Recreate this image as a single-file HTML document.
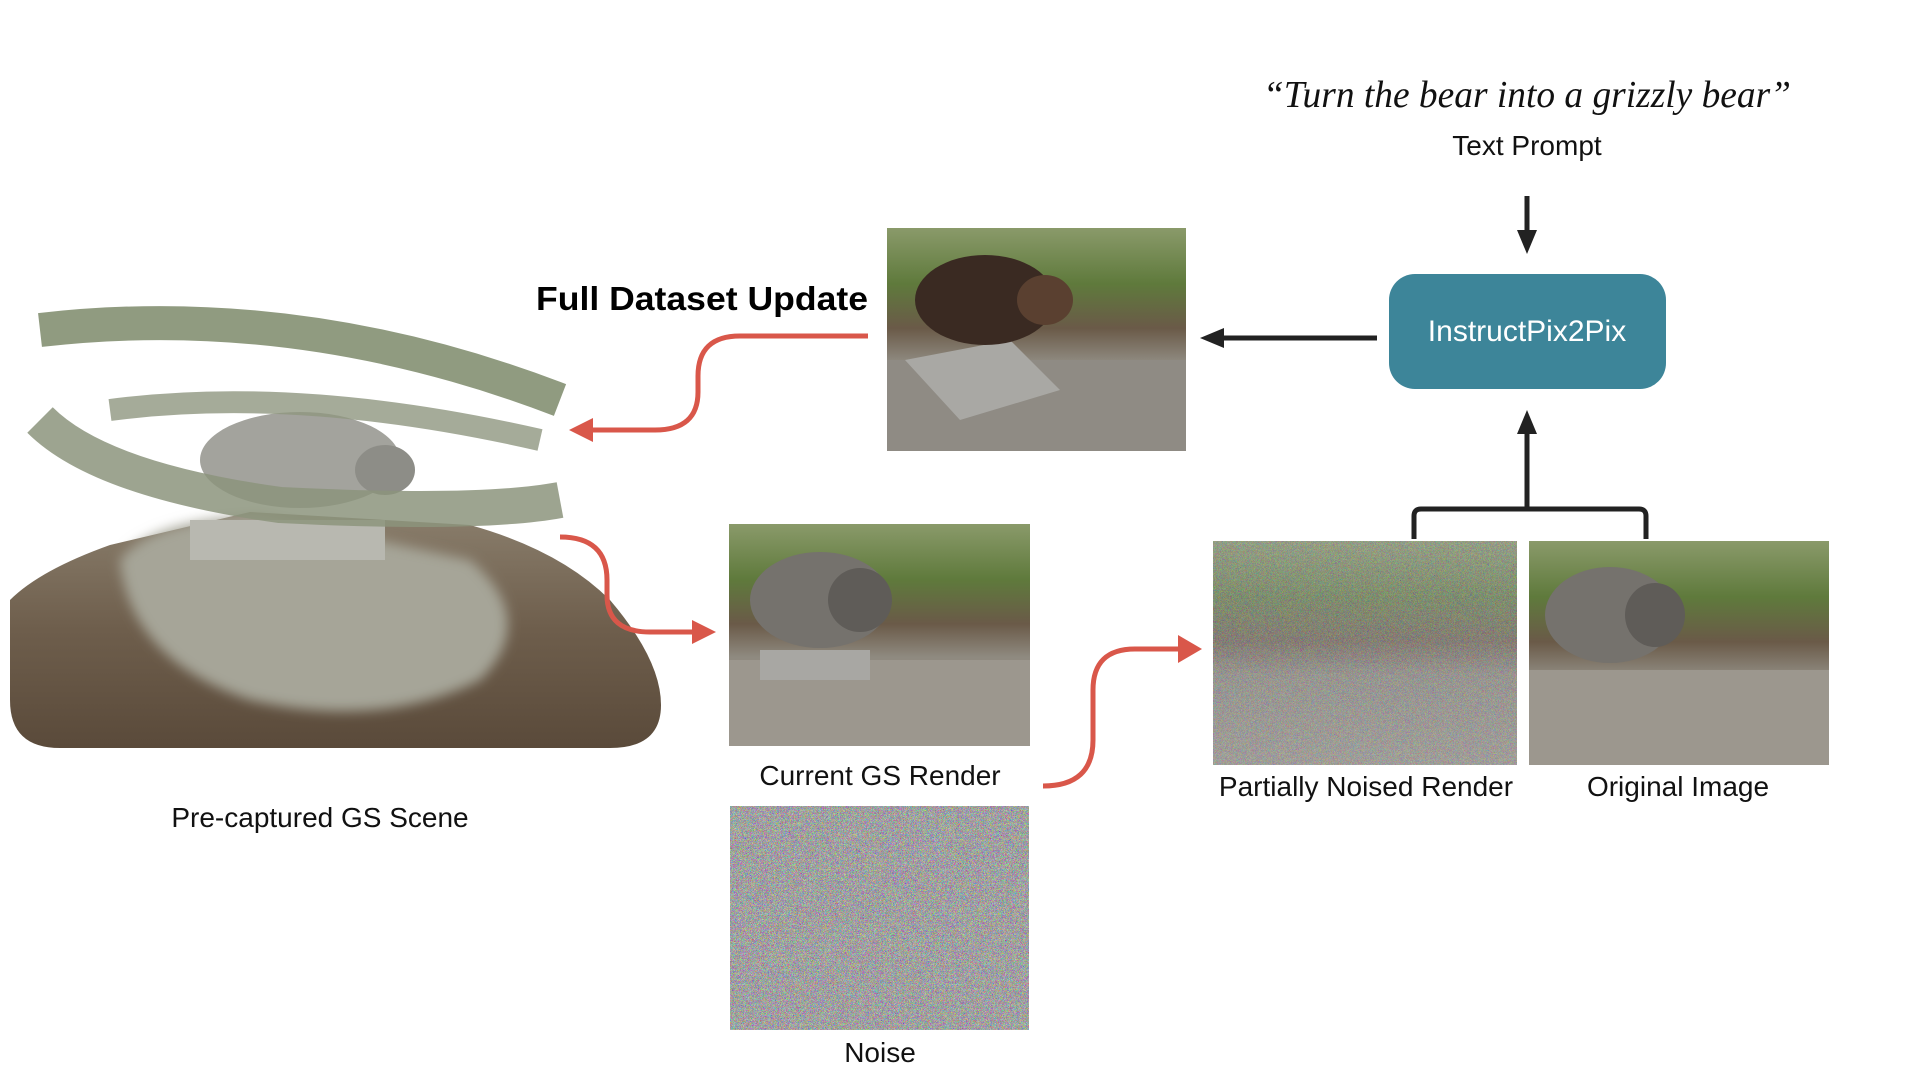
<!DOCTYPE html>
<html><head><meta charset="utf-8"><style>
html,body{margin:0;padding:0;background:#fff;}
svg{display:block;}
.lbl{font-family:"Liberation Sans",sans-serif;font-size:28px;fill:#111;}
</style></head><body>
<svg width="1920" height="1080" viewBox="0 0 1920 1080" xmlns="http://www.w3.org/2000/svg">
<defs>
  <filter id="noise" x="0" y="0" width="100%" height="100%">
    <feTurbulence type="turbulence" baseFrequency="1.2" numOctaves="1" seed="3"/>
    <feColorMatrix type="matrix" values="1.6 -0.3 -0.3 0 0.22  -0.3 1.6 -0.3 0 0.22  -0.3 -0.3 1.6 0 0.22  0 0 0 0 1"/>
  </filter>
  <filter id="noise2" x="0" y="0" width="100%" height="100%">
    <feTurbulence type="turbulence" baseFrequency="1.2" numOctaves="1" seed="7"/>
    <feColorMatrix type="matrix" values="1.6 -0.3 -0.3 0 0.22  -0.3 1.6 -0.3 0 0.22  -0.3 -0.3 1.6 0 0.22  0 0 0 0 0.5"/>
  </filter>
  <filter id="blur"><feGaussianBlur stdDeviation="6"/></filter>
  <linearGradient id="photo" x1="0" y1="0" x2="0" y2="1">
    <stop offset="0" stop-color="#8a9a6a"/>
    <stop offset="0.25" stop-color="#5f7a3c"/>
    <stop offset="0.45" stop-color="#6a5a48"/>
    <stop offset="0.6" stop-color="#8f8a80"/>
    <stop offset="1" stop-color="#a09a90"/>
  </linearGradient>
  <linearGradient id="mulch" x1="0" y1="0" x2="0" y2="1">
    <stop offset="0" stop-color="#8a7e6c"/>
    <stop offset="0.5" stop-color="#6e5e4c"/>
    <stop offset="1" stop-color="#5a4a3a"/>
  </linearGradient>
</defs>

<!-- GS scene -->
<path d="M10,600 Q40,570 110,545 L250,512 L470,525 Q560,550 610,600 Q661,660 661,705 Q661,748 610,748 L60,748 Q10,748 10,700 Z" fill="url(#mulch)"/>
<path d="M120,560 Q150,520 260,515 L470,560 Q540,620 480,680 Q380,730 250,700 Q130,660 120,560 Z" fill="#a6a598" filter="url(#blur)"/>
<polygon points="190,520 385,520 385,560 190,560" fill="#b8b8b0"/>
<ellipse cx="300" cy="460" rx="100" ry="48" fill="#a3a39d"/>
<ellipse cx="385" cy="470" rx="30" ry="25" fill="#8d8d87"/>
<!-- camera rings -->
<path d="M40,330 Q300,300 560,400" stroke="#7c8a6a" stroke-width="34" fill="none" opacity="0.85"/>
<path d="M40,420 Q100,480 280,505 Q480,515 560,500" stroke="#8c947c" stroke-width="36" fill="none" opacity="0.85"/>
<path d="M110,410 Q300,385 540,440" stroke="#8e9680" stroke-width="22" fill="none" opacity="0.8"/>
<text x="320" y="827" text-anchor="middle" class="lbl">Pre-captured GS Scene</text>

<!-- Full Dataset Update -->
<text x="868" y="310" text-anchor="end" font-family="Liberation Sans,sans-serif" font-weight="bold" font-size="33" fill="#000" textLength="332" lengthAdjust="spacingAndGlyphs">Full Dataset Update</text>

<!-- grizzly image -->
<rect x="887" y="228" width="299" height="223" fill="url(#photo)"/>
<rect x="887" y="360" width="299" height="91" fill="#8f8b84"/>
<polygon points="905,360 1010,340 1060,390 960,420" fill="#a9a8a4"/>
<ellipse cx="985" cy="300" rx="70" ry="45" fill="#3a2a22"/>
<ellipse cx="1045" cy="300" rx="28" ry="25" fill="#5a4030"/>

<!-- Current GS render -->
<rect x="729" y="524" width="301" height="222" fill="url(#photo)"/>
<rect x="729" y="660" width="301" height="86" fill="#9c978e"/>
<ellipse cx="820" cy="600" rx="70" ry="48" fill="#75726d"/>
<ellipse cx="860" cy="600" rx="32" ry="32" fill="#5f5c58"/>
<rect x="760" y="650" width="110" height="30" fill="#a8a7a3"/>
<text x="880" y="785" text-anchor="middle" class="lbl">Current GS Render</text>

<!-- Noise -->
<rect x="730" y="806" width="299" height="224" fill="#888" filter="url(#noise)"/>
<text x="880" y="1062" text-anchor="middle" class="lbl">Noise</text>

<!-- Partially noised -->
<rect x="1213" y="541" width="304" height="224" fill="url(#photo)"/>
<rect x="1213" y="541" width="304" height="224" fill="#888" filter="url(#noise2)"/>
<text x="1366" y="796" text-anchor="middle" class="lbl">Partially Noised Render</text>

<!-- Original image -->
<rect x="1529" y="541" width="300" height="224" fill="url(#photo)"/>
<rect x="1529" y="670" width="300" height="95" fill="#9c978e"/>
<ellipse cx="1610" cy="615" rx="65" ry="48" fill="#75726d"/>
<ellipse cx="1655" cy="615" rx="30" ry="32" fill="#5f5c58"/>
<text x="1678" y="796" text-anchor="middle" class="lbl">Original Image</text>

<!-- Prompt -->
<text x="1527" y="107" text-anchor="middle" font-family="Liberation Serif,serif" font-style="italic" font-size="38" fill="#111" textLength="528" lengthAdjust="spacingAndGlyphs">“Turn the bear into a grizzly bear”</text>
<text x="1527" y="155" text-anchor="middle" class="lbl">Text Prompt</text>

<!-- down arrow -->
<line x1="1527" y1="196" x2="1527" y2="236" stroke="#222" stroke-width="5"/>
<polygon points="1517,230 1537,230 1527,254" fill="#222"/>

<!-- box -->
<rect x="1389" y="274" width="277" height="115" rx="26" fill="#3d8599"/>
<text x="1527" y="341" text-anchor="middle" font-family="Liberation Sans,sans-serif" font-size="30" fill="#fff">InstructPix2Pix</text>

<!-- left arrow -->
<line x1="1377" y1="338" x2="1220" y2="338" stroke="#222" stroke-width="5"/>
<polygon points="1200,338 1224,328 1224,348" fill="#222"/>

<!-- up arrow + bracket -->
<line x1="1527" y1="510" x2="1527" y2="428" stroke="#222" stroke-width="5"/>
<polygon points="1517,434 1537,434 1527,410" fill="#222"/>
<path d="M1414,539 L1414,516 Q1414,509 1421,509 L1639,509 Q1646,509 1646,516 L1646,539" stroke="#222" stroke-width="5" fill="none"/>

<!-- red arrows -->
<g stroke="#d9574a" stroke-width="5" fill="none">
  <path d="M868,336 L740,336 Q698,336 698,376 L698,392 Q698,430 655,430 L592,430"/>
  <path d="M560,537 Q607,537 607,580 L607,595 Q607,632 650,632 L696,632"/>
  <path d="M1043,786 Q1093,786 1093,740 L1093,690 Q1093,649 1135,649 L1180,649"/>
</g>
<g fill="#d9574a">
  <polygon points="569,430 593,418 593,442"/>
  <polygon points="716,632 692,620 692,644"/>
  <polygon points="1202,649 1178,635 1178,663"/>
</g>
</svg>
</body></html>
